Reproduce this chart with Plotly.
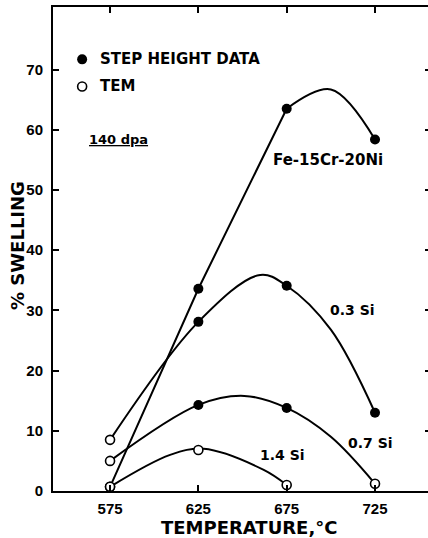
import plotly.graph_objects as go

# ---- data ----
temps = [575, 625, 675, 725]

# measured points (None = no point); method: "S" = step height data, "T" = TEM
fe_vals = [0.7, 33.6, 63.5, 58.4]
fe_meth = ["T", "S", "S", "S"]
si03_vals = [8.5, 28.1, 34.1, 13.0]
si03_meth = ["T", "S", "S", "S"]
si07_vals = [5.0, 14.3, 13.8, 1.2]
si07_meth = ["T", "S", "S", "T"]
si14_vals = [0.7, 6.8, 1.0, None]
si14_meth = ["T", "T", "T", None]

# hand-drawn trend curves
fe_line_x = [575, 625, 675]            # straight part
fe_line_y = [0.7, 33.6, 63.5]
fe_curve_x = [675, 700, 725]           # curved part
fe_curve_y = [63.5, 66.7, 58.4]
si03_curve_x = [575, 625, 660, 675, 700, 725]
si03_curve_y = [8.5, 28.1, 35.9, 34.1, 26.8, 13.0]
si07_curve_x = [575, 625, 651, 675, 700, 725]
si07_curve_y = [5.0, 14.3, 15.8, 13.8, 9.0, 1.2]
si14_curve_x = [575, 609, 628, 662, 675]
si14_curve_y = [0.7, 6.0, 7.0, 3.5, 1.0]

x_ticks = [575, 625, 675, 725]
y_ticks = [0, 10, 20, 30, 40, 50, 60, 70]

series_labels = ["Fe-15Cr-20Ni", "0.3 Si", "0.7 Si", "1.4 Si"]

FONT = "DejaVu Sans"
TICKFONT = "Liberation Sans"
W, H = 431, 538
L, R, T, B = 53, 0, 7, 47

fig = go.Figure()

fig.add_trace(go.Scatter(x=fe_line_x, y=fe_line_y, mode="lines", name=series_labels[0],
                         line=dict(color="black", width=2), hoverinfo="skip", showlegend=False))
curves = [(fe_curve_x, fe_curve_y, series_labels[0]), (si03_curve_x, si03_curve_y, series_labels[1]),
          (si07_curve_x, si07_curve_y, series_labels[2]), (si14_curve_x, si14_curve_y, series_labels[3])]
for cx, cy, name in curves:
    fig.add_trace(go.Scatter(x=cx, y=cy, mode="lines", name=name,
                             line=dict(color="black", width=2, shape="spline", smoothing=1.0),
                             hoverinfo="skip", showlegend=False))

sx, sy, tx, ty = [], [], [], []
for vals, meth in [(fe_vals, fe_meth), (si03_vals, si03_meth),
                   (si07_vals, si07_meth), (si14_vals, si14_meth)]:
    for t, v, m in zip(temps, vals, meth):
        if v is None:
            continue
        if m == "S":
            sx.append(t); sy.append(v)
        else:
            tx.append(t); ty.append(v)

fig.add_trace(go.Scatter(x=sx, y=sy, mode="markers", name="STEP HEIGHT DATA",
                         marker=dict(symbol="circle", size=10, color="black"),
                         showlegend=False))
fig.add_trace(go.Scatter(x=tx, y=ty, mode="markers", name="TEM",
                         marker=dict(symbol="circle", size=9, color="white",
                                     line=dict(color="black", width=1.6)),
                         showlegend=False))

# legend symbols drawn inside the plot like the original
fig.add_trace(go.Scatter(x=[559.2], y=[71.7], mode="markers", showlegend=False, hoverinfo="skip",
                         marker=dict(symbol="circle", size=10, color="black")))
fig.add_trace(go.Scatter(x=[559.2], y=[67.2], mode="markers", showlegend=False, hoverinfo="skip",
                         marker=dict(symbol="circle", size=9, color="white",
                                     line=dict(color="black", width=1.6))))

ann_font = dict(family=FONT, size=15, color="black")
annotations = [
    dict(x=568, y=71.7, text="<b>STEP HEIGHT DATA</b>", xanchor="left", yanchor="middle", font=ann_font),
    dict(x=568, y=67.2, text="<b>TEM</b>", xanchor="left", yanchor="middle", font=ann_font),
    dict(x=562, y=58.4, text="<b><u>140 dpa</u></b>", xanchor="left", yanchor="middle",
         font=dict(family=FONT, size=13, color="black")),
    dict(x=698.4, y=55.0, text="<b>" + series_labels[0] + "</b>", xanchor="center", yanchor="middle",
         font=dict(family=FONT, size=15, color="black")),
    dict(x=712.3, y=30.1, text="<b>" + series_labels[1] + "</b>", xanchor="center", yanchor="middle",
         font=dict(family=FONT, size=14, color="black")),
    dict(x=722.7, y=8.0, text="<b>" + series_labels[2] + "</b>", xanchor="center", yanchor="middle",
         font=dict(family=FONT, size=14, color="black")),
    dict(x=672.9, y=6.0, text="<b>" + series_labels[3] + "</b>", xanchor="center", yanchor="middle",
         font=dict(family=FONT, size=14, color="black")),
]
for a in annotations:
    a.update(xref="x", yref="y", showarrow=False)

pw = W - L - R
ph = H - T - B
# axis titles placed like the original
annotations.append(dict(xref="paper", yref="paper", x=(248.5 - L) / pw, y=(H - B - 527) / ph,
                        text="<b>TEMPERATURE,°C</b>", showarrow=False, xanchor="center", yanchor="middle",
                        font=dict(family=FONT, size=18, color="black")))
annotations.append(dict(xref="paper", yref="paper", x=(18 - L) / pw, y=(H - B - 246) / ph,
                        text="<b>% SWELLING</b>", showarrow=False, textangle=-90,
                        xanchor="center", yanchor="middle",
                        font=dict(family=FONT, size=18, color="black")))

fig.update_layout(
    width=W, height=H,
    margin=dict(l=L, r=R, t=T, b=B, pad=0),
    paper_bgcolor="white", plot_bgcolor="white",
    annotations=annotations,
    xaxis=dict(range=[542.7, 756.7], tickvals=x_ticks, ticktext=["<b>%d</b>" % v for v in x_ticks],
               ticks="inside", ticklen=6, tickwidth=1.5, tickcolor="black",
               showline=True, linecolor="black", linewidth=2, mirror="ticks",
               showgrid=False, zeroline=False, automargin=False, ticklabelstandoff=3,
               tickfont=dict(family=TICKFONT, size=15, color="black")),
    yaxis=dict(range=[0, 80.4], tickvals=y_ticks, ticktext=["<b>%d</b>" % v for v in y_ticks],
               ticks="inside", ticklen=6, tickwidth=1.5, tickcolor="black",
               showline=True, linecolor="black", linewidth=2, mirror="ticks",
               showgrid=False, zeroline=False, automargin=False, ticklabelstandoff=5,
               tickfont=dict(family=TICKFONT, size=15, color="black")),
)

fig.write_html("out.html", config={"displayModeBar": False},
               post_script="document.body.style.margin='0px';document.body.style.overflow='hidden';")
